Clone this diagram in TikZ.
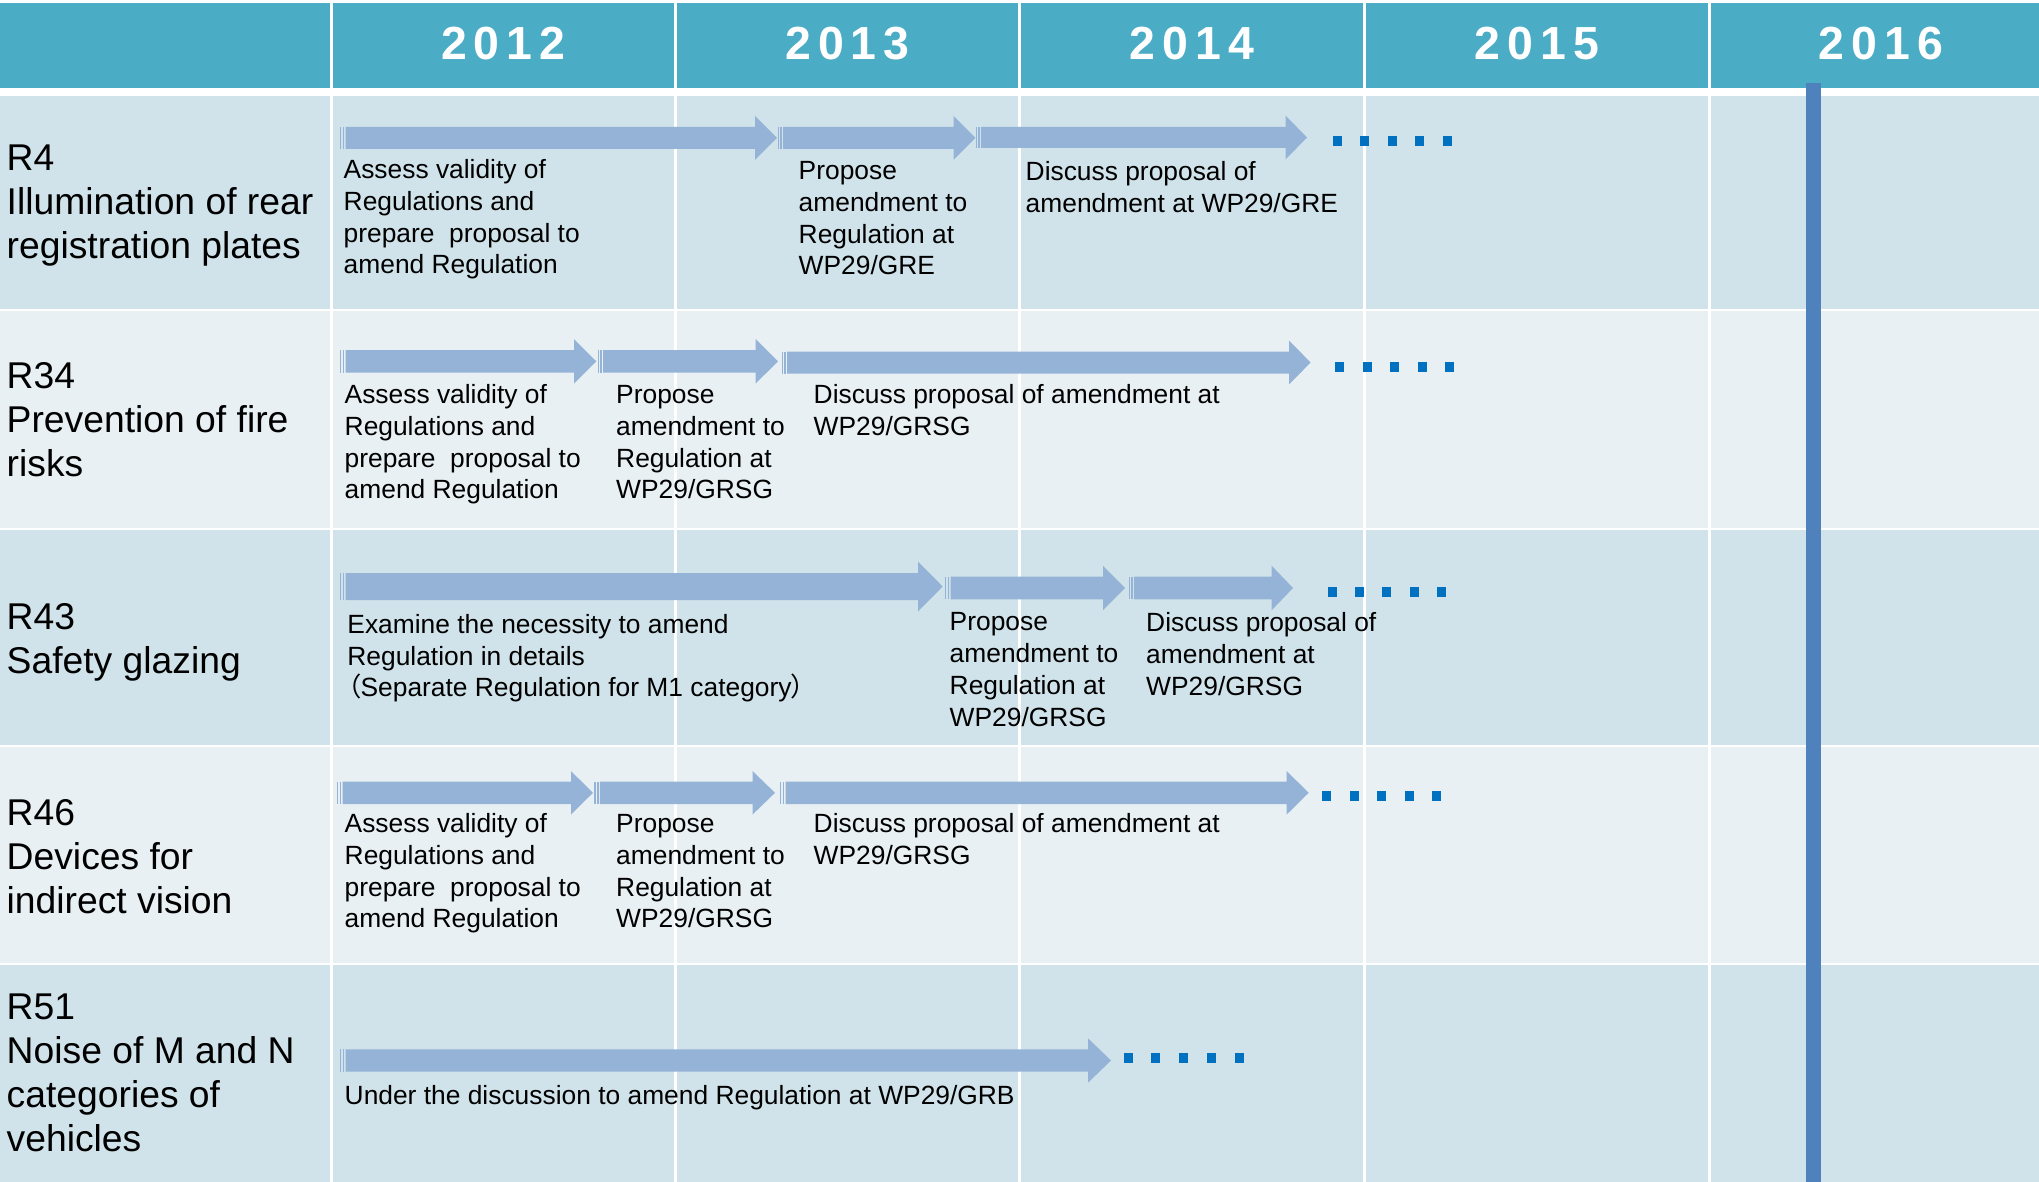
\documentclass[tikz,border=0pt]{standalone}
\usepackage{fontspec}
\setmainfont{Liberation Sans}
\newfontfamily\cjk[RawFeature=+palt]{Noto Sans CJK JP}
\definecolor{hdrcol}{HTML}{4BACC6}
\definecolor{rowdk}{HTML}{D0E3EA}
\definecolor{rowlt}{HTML}{E8F0F4}
\definecolor{arrcol}{HTML}{95B3D7}
\definecolor{dotcol}{HTML}{0070C0}
\definecolor{barcol}{HTML}{4F81BD}

\begin{document}
\begin{tikzpicture}[x=0.01cm,y=-0.01cm,
    yr/.style={text=white,inner sep=0pt,font=\fontsize{13.2}{15}\selectfont\bfseries\addfontfeature{LetterSpace=15}},
    lab/.style={anchor=base west,inner sep=0pt,align=left,font=\fontsize{10.6}{12.5}\selectfont},
    txt/.style={anchor=base west,inner sep=0pt,align=left,font=\fontsize{7.5}{9.05}\selectfont},
    cellline/.style={white,line width=0.85pt}]
        \fill[white] (0,0) rectangle (2039,1182);
        \useasboundingbox (0,0) rectangle (2039,1182);
        \fill[hdrcol] (0,3.5) rectangle (2039,88);
        \foreach \ya/\yb/\c in {96/308.5/rowdk,310.5/527.5/rowlt,529.5/744.5/rowdk,746.5/962.5/rowlt,964.5/1182/rowdk}
        {
            \fill[\c] (0,\ya) rectangle (2039,\yb);
        }
        \foreach \x in {331.6,675,1019.5,1364.5,1709}
        {
            \draw[cellline] (\x,3.5)--(\x,1182);
        }
        \foreach \x/\t in {503.3/2012,847.3/2013,1192/2014,1537/2015,1881/2016}
        {
            \node[yr] (hd\t) at (\x,43.3) {\t};
        }
        \foreach \xa/\xb/\yc/\s/\h/\l in {340/777/137.8/11/22/22,777.5/975.5/137.8/11/22/22,975.5/1307/137.5/10.5/22/21.5,
            340/596.3/361.3/11.3/22.2/22.3,597.6/778/361.3/11.3/22.2/22.3,781.6/1310.7/362.5/11/21.8/21.7,
            340/942.7/586.5/13.5/25/24.7,945/1125/588/11.3/22.2/22,1128.6/1293/588/11.3/22.2/21.3,
            337/593/792.8/11.2/21.7/22,594.4/775/792.8/11.2/21.7/22.4,780/1308.7/792.8/11.2/21.7/22,
            340/1111/1060.5/11.2/22.2/23}
        {
            \fill[arrcol] (\xa+5.5,\yc-\s)--(\xb-\l,\yc-\s)--(\xb-\l,\yc-\h)--(\xb,\yc)--(\xb-\l,\yc+\h)--(\xb-\l,\yc+\s)--(\xa+5.5,\yc+\s)--cycle;
            \fill[arrcol] (\xa,\yc-\s) rectangle ++(1.2,2*\s);
            \fill[arrcol] (\xa+2.6,\yc-\s) rectangle ++(1.6,2*\s);
        }
        \foreach \xs/\xe/\y in {1332.6/1451.5/141,1335/1454/366.7,1327.6/1446/592.3,1322.4/1441.3/796,1123.6/1243.8/1058.3}
        {
            \foreach \i in {0,...,4}
            {
                \fill[dotcol] ({\xs+\i*(\xe-\xs-9)/4},\y-5) rectangle ++(9,10);
            }
        }
        \fill[barcol] (1806,83) rectangle (1821,1182);
        \node[lab] (r4lab) at (6,258.9) {R4\\Illumination of rear\\registration plates};
        \node[lab] (r34lab) at (6,476.9) {R34\\Prevention of fire\\risks};
        \node[lab] (r43lab) at (6,673.2) {R43\\Safety glazing};
        \node[lab] (r46lab) at (6,913.9) {R46\\Devices for\\indirect vision};
        \node[lab] (r51lab) at (6,1151.6) {R51\\Noise of M and N\\categories of\\vehicles};
        \node[txt] (r4a) at (343,273.9) {Assess validity of\\Regulations and\\prepare\ \ proposal to\\amend Regulation};
        \node[txt] (r4b) at (798,274.9) {Propose\\amendment to\\Regulation at\\WP29/GRE};
        \node[txt] (r4c) at (1025,212.8) {Discuss proposal of\\amendment at WP29/GRE};
        \node[txt] (r34a) at (344,498.9) {Assess validity of\\Regulations and\\prepare\ \ proposal to\\amend Regulation};
        \node[txt] (r34b) at (615.5,498.9) {Propose\\amendment to\\Regulation at\\WP29/GRSG};
        \node[txt] (r34c) at (813,435.3) {Discuss proposal of amendment at\\WP29/GRSG};
        \node[txt] (r43a) at (346.7,696.9) {Examine the necessity to amend\\Regulation in details\\{\cjk （}Separate Regulation for M1 category{\cjk ）}};
        \node[txt] (r43b) at (949,726.4) {Propose\\amendment to\\Regulation at\\WP29/GRSG};
        \node[txt] (r43c) at (1145.5,695.6) {Discuss proposal of\\amendment at\\WP29/GRSG};
        \node[txt] (r46a) at (344,927.9) {Assess validity of\\Regulations and\\prepare\ \ proposal to\\amend Regulation};
        \node[txt] (r46b) at (615.5,927.9) {Propose\\amendment to\\Regulation at\\WP29/GRSG};
        \node[txt] (r46c) at (813,864.3) {Discuss proposal of amendment at\\WP29/GRSG};
        \node[txt] (r51a) at (344,1104) {Under the discussion to amend Regulation at WP29/GRB};
    \end{tikzpicture}
\end{document}
